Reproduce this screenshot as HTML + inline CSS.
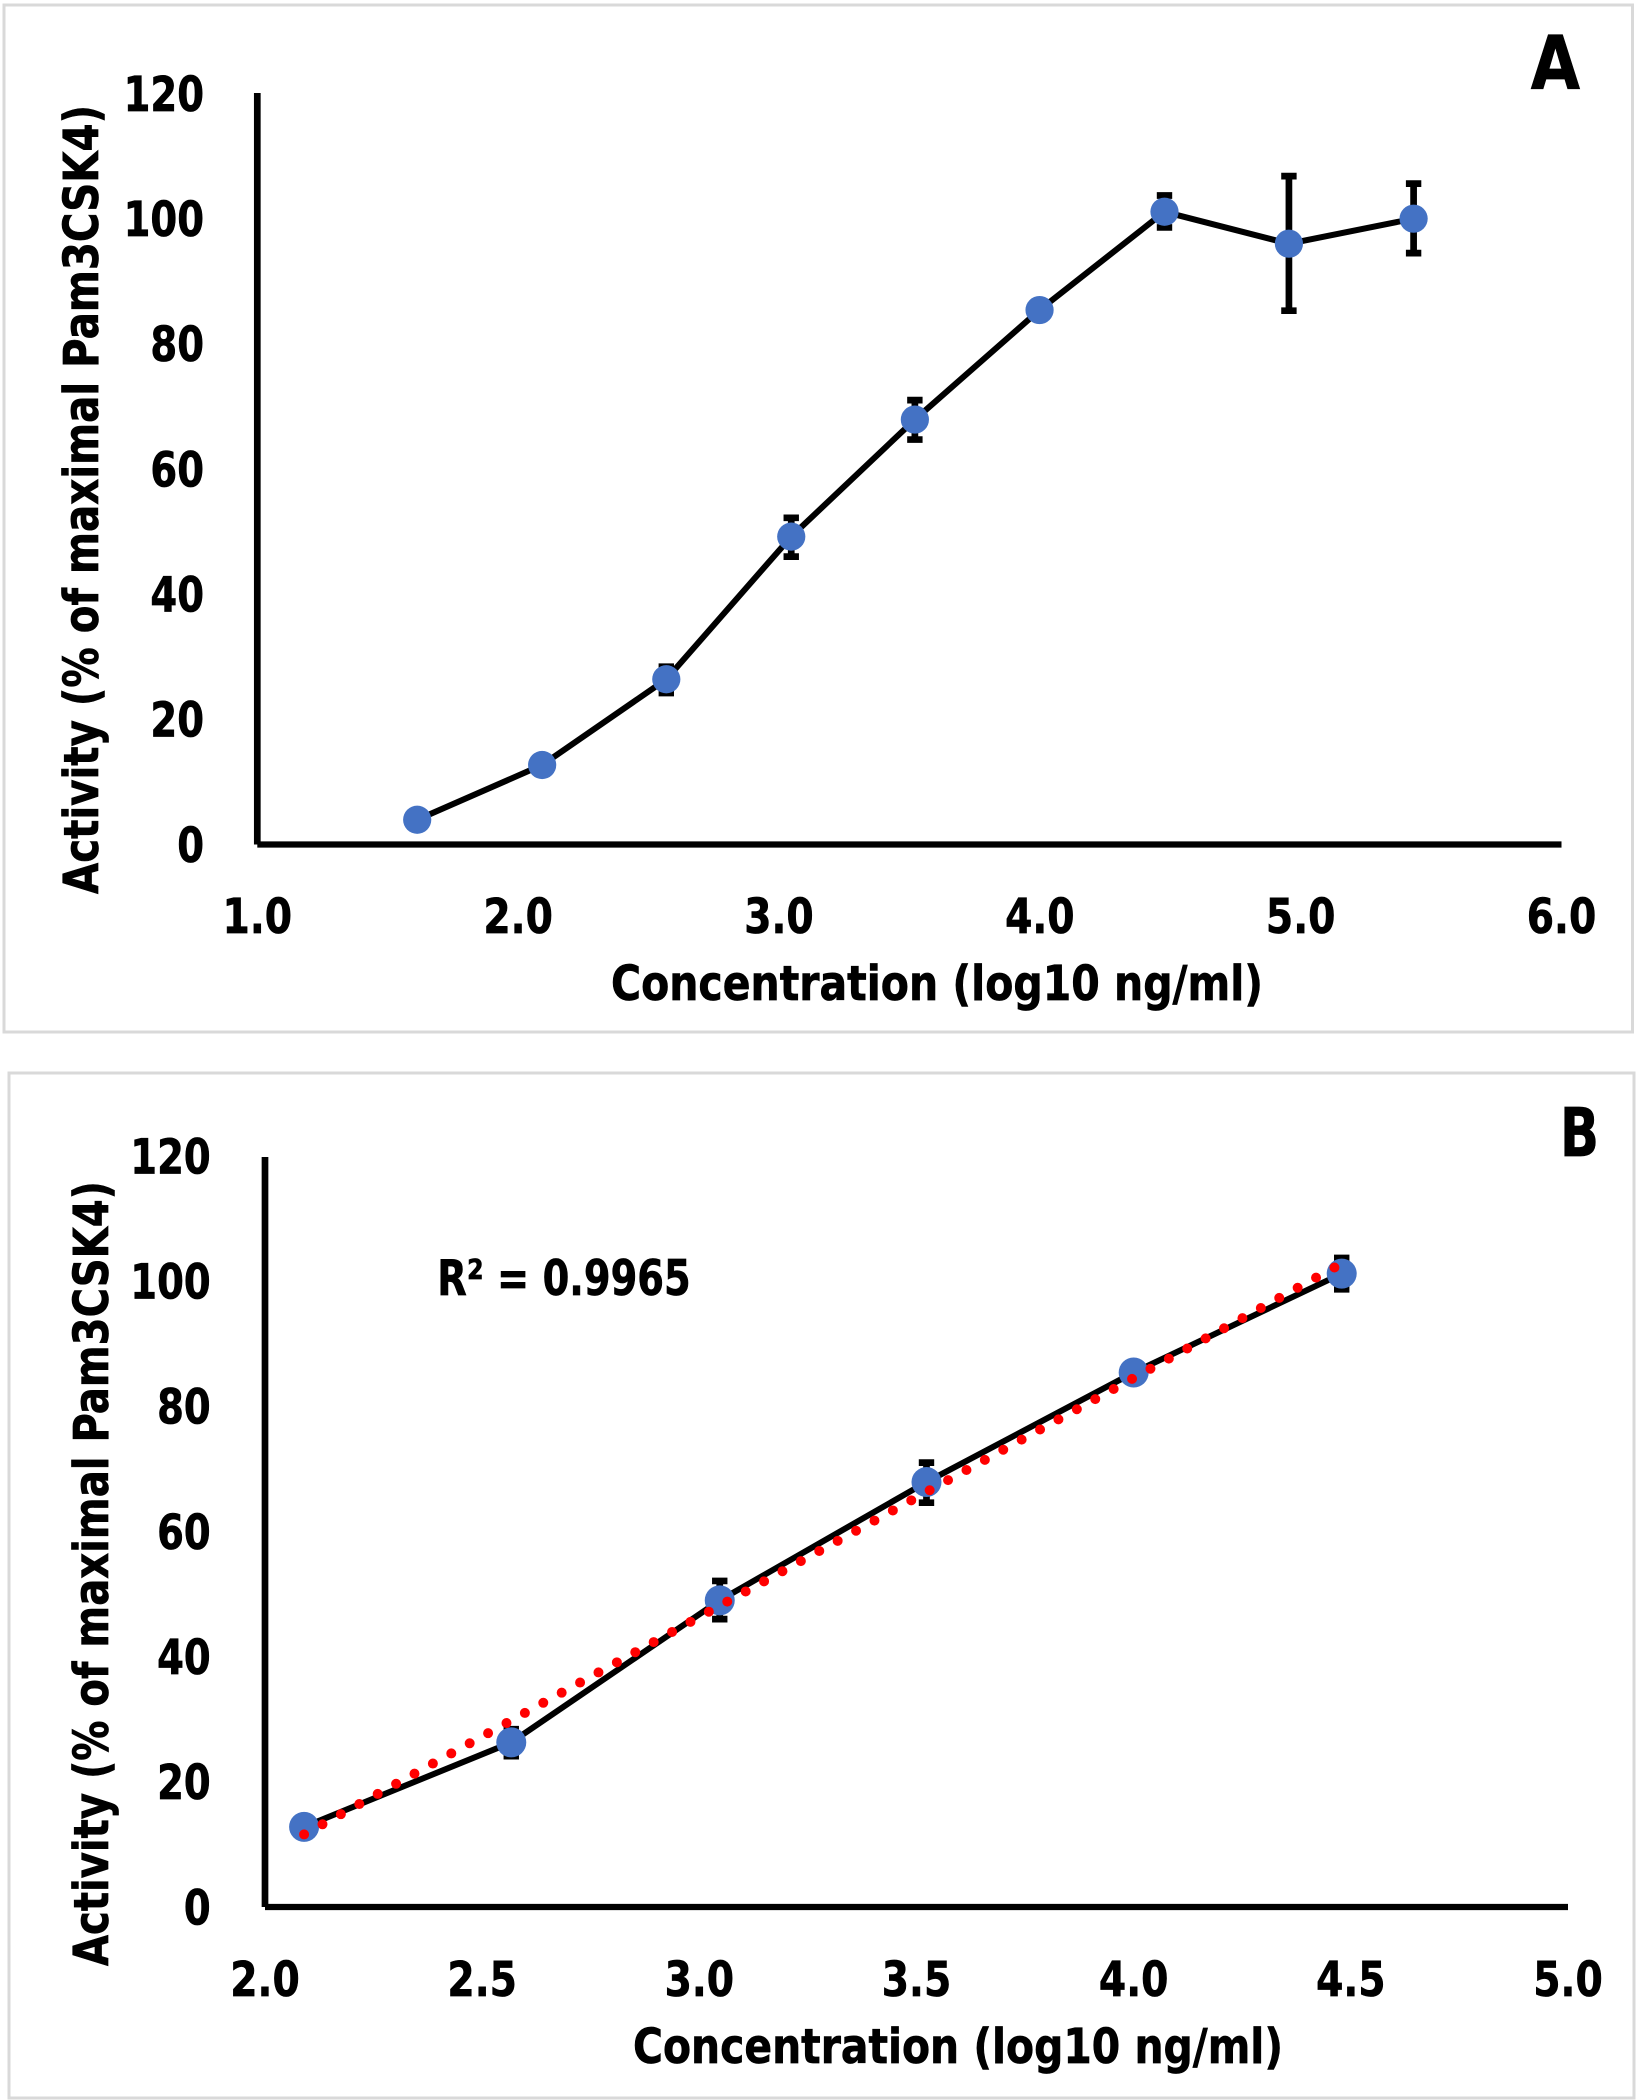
<!DOCTYPE html>
<html lang="en">
<head>
<meta charset="utf-8">
<title>Activity vs concentration, panels A and B</title>
<style>
html,body{margin:0;padding:0;background:#fff;}
svg{display:block;}
text{font-family:"DejaVu Sans","Liberation Sans",sans-serif;font-weight:bold;fill:#000;stroke:#000;stroke-width:0.7px;}
</style>
</head>
<body>
<svg id="figure" xmlns="http://www.w3.org/2000/svg" width="1637" height="2100" viewBox="0 0 1637 2100">
  <rect x="0" y="0" width="1637" height="2100" fill="#fff"/>
  <g id="panel-a">
    <rect x="4" y="5" width="1628.5" height="1027" fill="#fff" stroke="#d9d9d9" stroke-width="3"/>
    <text x="1530.7" y="89" font-size="74" textLength="49.3" lengthAdjust="spacingAndGlyphs">A</text>
    <text x="611" y="1000" font-size="48" textLength="652" lengthAdjust="spacingAndGlyphs">Concentration (log10 ng/ml)</text>
    <text transform="translate(98 894) rotate(-90)" font-size="48" textLength="789" lengthAdjust="spacingAndGlyphs">Activity (% of maximal Pam3CSK4)</text>
  </g>
  <g id="panel-b">
    <rect x="9" y="1073" width="1625" height="1025" fill="#fff" stroke="#d9d9d9" stroke-width="3"/>
    <text x="1560" y="1156" font-size="67" textLength="39" lengthAdjust="spacingAndGlyphs">B</text>
    <text x="633" y="2063" font-size="48" textLength="650" lengthAdjust="spacingAndGlyphs">Concentration (log10 ng/ml)</text>
    <text transform="translate(108 1966) rotate(-90)" font-size="48" textLength="785" lengthAdjust="spacingAndGlyphs">Activity (% of maximal Pam3CSK4)</text>
    <text x="437.3" y="1295" font-size="49" textLength="253.4" lengthAdjust="spacingAndGlyphs">R² = 0.9965</text>
  </g>
</svg>
<script>
// Panel A data
const concA = [1.613, 2.092, 2.568, 3.047, 3.521, 3.999, 4.478, 4.955, 5.433];
const activityA = [3.95, 12.7, 26.4, 49.2, 67.9, 85.4, 101.1, 96.0, 100.0];
const errorHighA = [4.4, 14.0, 28.4, 52.2, 71.0, 86.0, 103.7, 106.8, 105.6];
const errorLowA = [3.5, 11.4, 24.2, 46.0, 64.7, 84.8, 98.6, 85.3, 94.5];
const xTicksA = [1.0, 2.0, 3.0, 4.0, 5.0, 6.0];

// Panel B data
const concB = [2.09, 2.567, 3.047, 3.523, 4.0, 4.479];
const activityB = [12.8, 26.3, 49.0, 67.9, 85.4, 101.2];
const errorHighB = [14.0, 28.4, 52.1, 71.0, 86.0, 103.7];
const errorLowB = [11.6, 24.1, 46.0, 64.6, 84.8, 98.7];
const trendConcB = [2.09, 4.468];
const trendActivityB = [11.6, 102.4];
const xTicksB = [2.0, 2.5, 3.0, 3.5, 4.0, 4.5, 5.0];

// Shared y axis ticks
const yTicks = [0, 20, 40, 60, 80, 100, 120];

const NS = 'http://www.w3.org/2000/svg';

function make(tag, parent, attrs) {
  const node = document.createElementNS(NS, tag);
  for (const key in attrs) node.setAttribute(key, attrs[key]);
  parent.appendChild(node);
  return node;
}

function drawPanel(root, cfg) {
  const xScale = v => cfg.x0 + (v - cfg.xMin) * (cfg.x1 - cfg.x0) / (cfg.xMax - cfg.xMin);
  const yScale = v => cfg.y0 + v * (cfg.yTop - cfg.y0) / 120;

  const yAxis = make('line', root, {x1: cfg.x0, x2: cfg.x0, y1: cfg.y0, y2: cfg.yAxisEnd, stroke: '#000', 'stroke-width': 6.7});
  
  

  const xAxis = make('line', root, {x1: cfg.x0, x2: cfg.x1, y1: cfg.y0, y2: cfg.y0, stroke: '#000', 'stroke-width': 6.3});
  
  

  cfg.yTicks.forEach(t => {
    const text = String(t);
    const label = make('text', root, {x: cfg.yLabelRight, y: yScale(t) + 17.3, 'font-size': 48, 'text-anchor': 'end', textLength: text.length * 26.8, lengthAdjust: 'spacingAndGlyphs'});
    label.textContent = text;
    
    
  });

  cfg.xTicks.forEach(t => {
    const label = make('text', root, {x: xScale(t), y: cfg.xLabelY, 'font-size': 48, 'text-anchor': 'middle', textLength: 69.5, lengthAdjust: 'spacingAndGlyphs'});
    label.textContent = t.toFixed(1);
    
    
  });

  cfg.conc.forEach((c, i) => {
    const px = xScale(c);
    const hi = yScale(cfg.high[i]);
    const lo = yScale(cfg.low[i]);
    const bar = make('path', root, {
      d: 'M' + px + ' ' + hi + 'V' + lo + 'M' + (px - 7.7) + ' ' + hi + 'H' + (px + 7.7) + 'M' + (px - 7.7) + ' ' + lo + 'H' + (px + 7.7),
      fill: 'none', stroke: '#000', 'stroke-width': 6.7
    });
    
    
  });

  const linePoints = cfg.conc.map((c, i) => xScale(c) + ',' + yScale(cfg.activity[i])).join(' ');
  const series = make('polyline', root, {points: linePoints, fill: 'none', stroke: '#000', 'stroke-width': 6, 'stroke-linejoin': 'round'});
  
  

  cfg.conc.forEach((c, i) => {
    const dot = make('circle', root, {cx: xScale(c), cy: yScale(cfg.activity[i]), r: cfg.markerR, fill: '#4472c4'});
    
    
  });

  if (cfg.trendX) {
    const trend = make('line', root, {
      x1: xScale(cfg.trendX[0]), y1: yScale(cfg.trendY[0]),
      x2: xScale(cfg.trendX[1]), y2: yScale(cfg.trendY[1]),
      stroke: '#ff0000', 'stroke-width': 10, 'stroke-linecap': 'round', 'stroke-dasharray': '0 21'
    });
    
    
  }
}

drawPanel(document.getElementById('panel-a'), {
  x0: 257.3, x1: 1561.5, xMin: 1, xMax: 6,
  y0: 844.5, yTop: 93.5, yAxisEnd: 93, yLabelRight: 204, xLabelY: 933, markerR: 14.1,
  xTicks: xTicksA, yTicks: yTicks,
  conc: concA, activity: activityA, high: errorHighA, low: errorLowA
});

drawPanel(document.getElementById('panel-b'), {
  x0: 265, x1: 1568, xMin: 2, xMax: 5,
  y0: 1907, yTop: 1156, yAxisEnd: 1157, yLabelRight: 210.7, xLabelY: 1996, markerR: 15,
  xTicks: xTicksB, yTicks: yTicks,
  conc: concB, activity: activityB, high: errorHighB, low: errorLowB,
  trendX: trendConcB, trendY: trendActivityB
});
</script>
</body>
</html>
